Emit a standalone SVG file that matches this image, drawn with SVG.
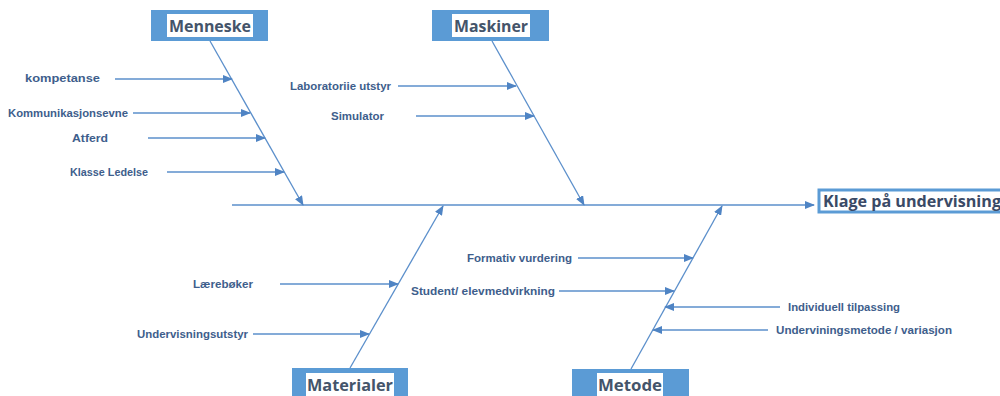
<svg xmlns="http://www.w3.org/2000/svg" width="1000" height="396" viewBox="0 0 1000 396">
<style>
.bone{stroke:#5B8FCB;stroke-width:1.3;fill:none}
.sub{stroke:#5B8FCB;stroke-width:1.3;fill:none;marker-end:url(#ah)}
.lbl{font-family:"Liberation Sans",Arial,sans-serif;font-size:10.5px;font-weight:bold;fill:#3E5E8C}
.box{fill:#5B9BD5}
.inner{fill:#ffffff}
.ttl{font-family:"Open Sans","Liberation Sans",sans-serif;font-size:16px;font-weight:bold;fill:#44546A}
</style>
<defs>
<marker id="ah" markerWidth="10" markerHeight="8" refX="9" refY="4" orient="auto" markerUnits="userSpaceOnUse">
<path d="M0,0 L10,4 L0,8 Z" fill="#4F84C4"/>
</marker>
</defs>
<rect width="1000" height="396" fill="#ffffff"/>
<g id="connectors">
<line class="sub" x1="232" y1="205" x2="814" y2="205"/>
<line class="sub" x1="210" y1="41" x2="303" y2="205"/>
<line class="sub" x1="492" y1="41" x2="584" y2="205"/>
<line class="sub" x1="350" y1="368" x2="443" y2="206"/>
<line class="sub" x1="631" y1="369" x2="722" y2="206"/>
<line class="sub" x1="115" y1="79" x2="232" y2="79"/>
<line class="sub" x1="133" y1="113" x2="250" y2="113"/>
<line class="sub" x1="148" y1="138" x2="265" y2="138"/>
<line class="sub" x1="167" y1="172" x2="284" y2="172"/>
<line class="sub" x1="398" y1="86" x2="516" y2="86"/>
<line class="sub" x1="416" y1="116" x2="534" y2="116"/>
<line class="sub" x1="280" y1="284" x2="398" y2="284"/>
<line class="sub" x1="253" y1="334" x2="369" y2="334"/>
<line class="sub" x1="578" y1="258" x2="693" y2="258"/>
<line class="sub" x1="559" y1="291" x2="674" y2="291"/>
<line class="sub" x1="780" y1="307" x2="665" y2="307"/>
<line class="sub" x1="768" y1="330" x2="653" y2="330"/>
</g>
<g id="menneske">
<rect class="box" x="151" y="10" width="117" height="31"/>
<rect class="inner" x="167" y="14" width="86" height="23"/>
<text class="ttl" x="210" y="31.5" text-anchor="middle" textLength="82" lengthAdjust="spacingAndGlyphs">Menneske</text>
</g>
<g id="maskiner">
<rect class="box" x="432" y="10" width="117" height="31"/>
<rect class="inner" x="452" y="14" width="78" height="23"/>
<text class="ttl" x="491" y="31.5" text-anchor="middle" textLength="74" lengthAdjust="spacingAndGlyphs">Maskiner</text>
</g>
<g id="materialer">
<rect class="box" x="292" y="368" width="116" height="30"/>
<rect class="inner" x="306" y="373" width="88" height="25"/>
<text class="ttl" x="350" y="391" text-anchor="middle" textLength="86" lengthAdjust="spacingAndGlyphs">Materialer</text>
</g>
<g id="metode">
<rect class="box" x="572" y="369" width="117" height="30"/>
<rect class="inner" x="597" y="373" width="66" height="25"/>
<text class="ttl" x="630" y="391" text-anchor="middle" textLength="64" lengthAdjust="spacingAndGlyphs">Metode</text>
</g>
<g id="klage">
<rect x="819" y="190" width="190" height="22" fill="#ffffff" stroke="#5B9BD5" stroke-width="3"/>
<text class="ttl" x="823" y="207" textLength="178" lengthAdjust="spacingAndGlyphs" style="fill:#3A4A66">Klage på undervisning</text>
</g>
<g id="labels">
<text class="lbl" x="25" y="82" textLength="75" lengthAdjust="spacingAndGlyphs">kompetanse</text>
<text class="lbl" x="8" y="116.5" textLength="120" lengthAdjust="spacingAndGlyphs">Kommunikasjonsevne</text>
<text class="lbl" x="72" y="141.5" textLength="36" lengthAdjust="spacingAndGlyphs">Atferd</text>
<text class="lbl" x="70" y="175.5" textLength="78" lengthAdjust="spacingAndGlyphs">Klasse Ledelse</text>
<text class="lbl" x="290" y="89.5" textLength="101" lengthAdjust="spacingAndGlyphs">Laboratoriie utstyr</text>
<text class="lbl" x="331" y="119.5" textLength="53" lengthAdjust="spacingAndGlyphs">Simulator</text>
<text class="lbl" x="193" y="287.5" textLength="60" lengthAdjust="spacingAndGlyphs">Lærebøker</text>
<text class="lbl" x="137" y="337.5" textLength="111" lengthAdjust="spacingAndGlyphs">Undervisningsutstyr</text>
<text class="lbl" x="467" y="261.5" textLength="105" lengthAdjust="spacingAndGlyphs">Formativ vurdering</text>
<text class="lbl" x="411" y="294.5" textLength="144" lengthAdjust="spacingAndGlyphs">Student/ elevmedvirkning</text>
<text class="lbl" x="788" y="310.5" textLength="112" lengthAdjust="spacingAndGlyphs">Individuell tilpassing</text>
<text class="lbl" x="776" y="333.5" textLength="176" lengthAdjust="spacingAndGlyphs">Underviningsmetode / variasjon</text>
</g>
</svg>
